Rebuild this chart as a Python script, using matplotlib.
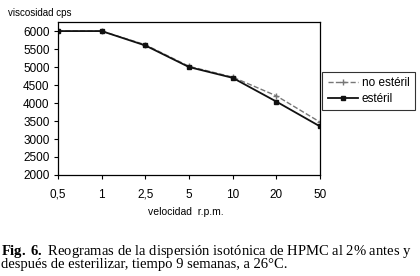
import numpy as np
import matplotlib.pyplot as plt

velocidad = ['0,5', '1', '2,5', '5', '10', '20', '50']
no_esteril = [6000, 6000, 5620, 5020, 4720, 4200, 3470]
esteril = [6000, 6000, 5600, 5000, 4700, 4040, 3350]
y_ticks = [2000, 2500, 3000, 3500, 4000, 4500, 5000, 5500, 6000]

plt.rcParams['font.family'] = ['Liberation Sans', 'DejaVu Sans']
plt.rcParams['mathtext.fontset'] = 'custom'
plt.rcParams['mathtext.rm'] = 'Liberation Serif'
plt.rcParams['mathtext.bf'] = 'Liberation Serif:bold'

fig = plt.figure(figsize=(4.2, 2.76), dpi=100)
ax = fig.add_axes([0.138, 0.366, 0.624, 0.554])

xs = np.arange(len(velocidad))
ax.plot(xs, no_esteril, '--', color='#777777', lw=1.0, marker='+', ms=5,
        mew=1.0, label='no estéril')
ax.plot(xs, esteril, '-', color='#111111', lw=1.3, marker='s', ms=3.5,
        label='estéril')

ax.set_xlim(0, len(velocidad) - 1)
ax.set_ylim(2000, 6250)
ax.set_xticks(xs)
ax.set_xticklabels(velocidad)
ax.set_yticks(y_ticks)
ax.tick_params(labelsize=8.5, length=3, width=0.8, direction='out')
ax.tick_params(axis='x', pad=7)
ax.tick_params(axis='y', pad=3)
for s in ax.spines.values():
    s.set_linewidth(0.9)

leg = ax.legend(loc='center left', bbox_to_anchor=(1.0, 0.55), fontsize=8.5,
                frameon=True, fancybox=False, edgecolor='black',
                handlelength=2.6, borderpad=0.45, labelspacing=0.3,
                handletextpad=0.3, borderaxespad=0.2)
leg.get_frame().set_linewidth(0.8)

fig.text(8 / 420, 1 - 13 / 276, 'viscosidad cps', fontsize=7, va='center')
fig.text(148 / 420, 1 - 212 / 276, 'velocidad  r.p.m.', fontsize=7.5, va='center')

caption = (r'$\mathbf{Fig.\,6.}$ Reogramas de la dispersión isotónica de HPMC al 2% antes y'
           '\ndespués de esterilizar, tiempo 9 semanas, a 26°C.')
fig.text(1 / 420, 1 - 243 / 276, caption, fontsize=10.5,
         family=['Liberation Serif', 'DejaVu Serif'], va='top', linespacing=0.8)

fig.savefig('out.png', dpi=100)
